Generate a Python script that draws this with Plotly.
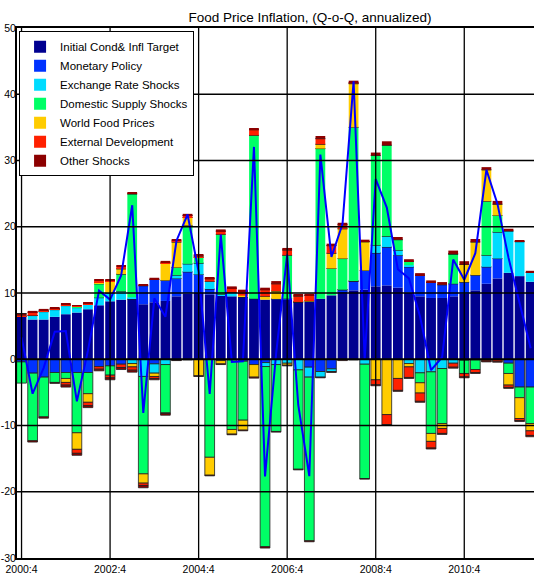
import plotly.graph_objects as go

quarters = ["2000:4",
            "2001:1", "2001:2", "2001:3", "2001:4",
            "2002:1", "2002:2", "2002:3", "2002:4",
            "2003:1", "2003:2", "2003:3", "2003:4",
            "2004:1", "2004:2", "2004:3", "2004:4",
            "2005:1", "2005:2", "2005:3", "2005:4",
            "2006:1", "2006:2", "2006:3", "2006:4",
            "2007:1", "2007:2", "2007:3", "2007:4",
            "2008:1", "2008:2", "2008:3", "2008:4",
            "2009:1", "2009:2", "2009:3", "2009:4",
            "2010:1", "2010:2", "2010:3", "2010:4",
            "2011:1", "2011:2", "2011:3", "2011:4",
            "2012:1", "2012:2"]
tick_labels = ["2000:4", "2002:4", "2004:4", "2006:4", "2008:4", "2010:4"]
y_ticks = [-30, -20, -10, 0, 10, 20, 30, 40, 50]
y_tick_text = ["-30", "-20", "-10", "0", "10", "20", "30", "40", "50"]

init_cond = [6.5, 6.0, 6.0, 6.4, 6.8, 7.05, 7.55, 8.15, 8.75, 9.0,
             9.1, 8.3, 8.6, 8.8, 9.5, 9.9, 10.0, 9.8, 9.65, 9.5,
             9.4, 9.15, 9.0, 9.0, 9.0, 8.65, 8.65, 9.15, 9.65, 10.3,
             10.4, 10.5, 11.0, 11.15, 10.8, 10.1, 9.5, 9.25, 9.25, 9.5,
             9.85, 10.4, 11.4, 12.2, 13.05, 12.55, 11.7]
monetary_pos = [0, 0, 0, 0, 0, 0, 0, 0, 0, 0,
                0, 2.8, 3.45, 3.1, 2.7, 3.3, 2.8, 0.8, 0, 0,
                0, 0, 0, 0.1, 0.15, 0, 0, 0, 0, 0.2,
                1.4, 2.9, 5.05, 5.8, 4.9, 3.85, 3.2, 2.35, 2.0, 1.9,
                1.8, 2.3, 2.55, 3.0, 0, 0, 0]
monetary_neg = [-0.4, -2.1, -2.7, -2.0, -2.0, -2.0, -2.0, -1.1, -1.0, -0.75,
                0, 0, -0.7, 0, 0, 0, 0, 0, -0.2, -0.1,
                -0.3, -0.8, -0.5, 0, 0, 0, -1.2, -1.85, -1.45, 0,
                0, 0, 0, 0, 0, 0, 0, 0, 0, 0,
                0, 0, 0, 0, -0.6, -4.2, -4.2]
exch_pos = [0, 0.6, 1.2, 1.1, 1.3, 0.75, 0.75, 1.15, 1.25, 1.25,
            0.25, 0, 0, 0, 0.5, 1.2, 1.7, 1.15, 0.15, 0.6,
            0, 0, 0, 0, 0, 0, 0, 0, 0, 0,
            0, 0, 1.15, 1.6, 0.75, 0.25, 0, 0, 0, 0,
            0, 0, 1.75, 4.0, 6.3, 5.2, 1.4]
exch_neg = [0, 0, 0, 0, 0, 0, 0, 0, 0, 0,
            -0.65, -2.6, -1.4, -0.8, 0, 0, 0, 0, 0, 0,
            0, 0, -0.6, -0.8, -0.6, -1.6, -1.5, -0.85, -0.4, 0,
            0, -0.75, 0, 0, 0, -0.65, -2.05, -1.9, -1.4, -0.6,
            -0.15, -0.1, 0, 0, 0, 0, 0]
supply_pos = [0, 0, 0, 0, 0, 0.1, 0, 2.1, 0, 2.6,
              15.6, 0, 0, 0, 1.15, 5.8, 0.9, 0, 9.05, 0,
              0, 24.65, 0, 0, 6.55, 0, 0, 22.65, 4.05, 4.7,
              23.2, 0, 13.55, 13.75, 1.6, 0.6, 0, 0, 0, 4.5,
              0, 0, 8.15, 2.5, 0, 0, 0]
supply_neg = [-3.2, -10.2, -6.0, -1.5, -0.9, -9.1, -3.2, 0, -1.4, 0,
              0, -14.7, 0, -7.3, 0, 0, 0, -14.8, 0, -10.5,
              -8.9, 0, -27.2, -10.1, 0, -15.0, -24.7, 0, 0, 0,
              0, -17.25, 0, 0, 0, 0, -1.5, -9.3, -8.3, 0,
              -2.0, -1.45, 0, 0, -1.55, -1.6, -5.5]
food_pos = [0, 0, 0, 0, 0, 0, 0, 0.25, 1.8, 0.8,
            0, 0, 0, 2.6, 3.85, 1.2, 0, 0, 0, 0,
            0.2, 0, 0.5, 1.2, 0, 0, 0.15, 0.65, 2.3, 4.5,
            6.6, 4.35, 0, 0, 0, 0, 0, 0, 0, 0,
            2.65, 5.0, 4.75, 1.7, 0, 0, 0]
food_neg = [0, 0, 0, 0, -0.6, -2.5, -1.3, 0, 0, 0,
            -0.5, -1.4, -0.5, 0, 0, 0, -2.5, -2.7, -0.5, -0.7,
            -1.5, -1.9, 0, 0, -0.3, 0, 0, 0, 0, 0,
            0, 0, -3.1, -8.35, -2.9, -0.5, -1.55, -1.2, -0.75, 0,
            0, 0, 0, 0, -1.75, -3.15, -1.1]
ext_pos = [0.2, 0.5, 0.2, 0.15, 0.2, 0.15, 0.15, 0.25, 0.15, 0.35,
           0.1, 0, 0, 0.15, 0.25, 0.3, 0.2, 0.4, 0.5, 0.65,
           0.65, 0.85, 1.0, 1.1, 0.8, 0.9, 0.85, 0.85, 1.15, 0.6,
           0.1, 0, 0, 0, 0, 0, 0, 0, 0, 0,
           0, 0, 0, 0, 0, 0, 0]
ext_neg = [0, 0, 0, 0, -0.4, -0.6, -0.5, -0.4, -0.4, -0.5,
           -0.5, -0.35, -0.3, -0.1, -0.1, 0, 0, 0, 0, 0,
           0, 0, 0, 0, 0, 0, 0, 0, 0, 0,
           0, 0, -0.75, -1.5, -1.8, -1.6, -1.25, -1.0, -0.75, -0.6,
           -0.5, -0.45, -0.25, -0.3, -0.35, -0.3, -0.7]
other_pos = [0.2, 0.2, 0.2, 0.15, 0.15, 0.1, 0.15, 0.2, 0.15, 0.2,
             0.15, 0.2, 0.25, 0.2, 0.15, 0.25, 0.2, 0.2, 0.25, 0.25,
             0.25, 0.25, 0.3, 0.4, 0.3, 0.25, 0.25, 0.4, 0.3, 0.3,
             0.35, 0.3, 0.45, 0.6, 0.4, 0.3, 0.3, 0.3, 0.4, 0.5,
             0.5, 0.45, 0.4, 0.5, 0.35, 0.2, 0.25]
other_neg = [0, -0.2, -0.2, -0.15, -0.3, -0.3, -0.3, -0.25, -0.3, -0.3,
             -0.3, -0.35, -0.2, -0.25, -0.1, -0.1, -0.1, -0.1, -0.1, -0.1,
             -0.1, -0.15, -0.2, -0.1, -0.1, -0.1, -0.15, -0.1, -0.15, -0.2,
             -0.1, -0.1, -0.15, -0.15, -0.15, -0.15, -0.15, -0.15, -0.15, -0.15,
             -0.15, -0.15, -0.15, -0.15, -0.15, -0.15, -0.2]

series = [
    ("Initial Cond& Infl Target", "#000090", init_cond, None),
    ("Monetary Policy", "#0032ff", monetary_pos, monetary_neg),
    ("Exchange Rate Shocks", "#00dcff", exch_pos, exch_neg),
    ("Domestic Supply Shocks", "#00ff66", supply_pos, supply_neg),
    ("World Food Prices", "#ffcc00", food_pos, food_neg),
    ("External Development", "#ff2000", ext_pos, ext_neg),
    ("Other Shocks", "#8c0000", other_pos, other_neg),
]

FONT = "Liberation Sans, Arial, sans-serif"

fig = go.Figure()
for name, color, pos, neg in series:
    fig.add_trace(go.Bar(x=quarters, y=pos, name=name, legendgroup=name,
                         marker=dict(color=color, line=dict(width=0))))
    if neg is not None:
        fig.add_trace(go.Bar(x=quarters, y=neg, name=name, legendgroup=name,
                             showlegend=False,
                             marker=dict(color=color,
                                         line=dict(width=0.8, color="#202020"))))

total = []
for i in range(len(quarters)):
    s = init_cond[i]
    for _, _, pos, neg in series[1:]:
        s += pos[i] + neg[i]
    total.append(s)

fig.add_trace(go.Scatter(x=quarters, y=total, mode="lines", showlegend=False,
                         line=dict(color="#0000ff", width=2)))

shapes = []
for v in y_ticks[1:-1]:
    shapes.append(dict(type="line", xref="paper", yref="y", x0=0, x1=1, y0=v, y1=v,
                       layer="above",
                       line=dict(color="black", width=2.2 if v == 0 else 1.3)))
for t in tick_labels:
    shapes.append(dict(type="line", xref="x", yref="paper", x0=t, x1=t, y0=0, y1=1,
                       layer="above", line=dict(color="black", width=1.3)))

fig.update_layout(
    width=534, height=574,
    margin=dict(l=17, r=0, t=28, b=16),
    paper_bgcolor="white", plot_bgcolor="white",
    barmode="relative", bargap=0.12,
    shapes=shapes,
    title=dict(text="Food Price Inflation, (Q-o-Q, annualized)",
               x=310 / 534, xanchor="center", xref="container",
               y=1 - 17 / 574, yanchor="middle", yref="container",
               font=dict(family=FONT, size=13.5, color="black")),
    legend=dict(x=0.004, y=0.994, xanchor="left", yanchor="top",
                bgcolor="white", bordercolor="black", borderwidth=1,
                traceorder="normal", itemwidth=30, tracegroupgap=0,
                font=dict(family=FONT, size=11.5, color="black")),
    xaxis=dict(type="category", range=[-0.41, 46.3], tickmode="array",
               tickvals=tick_labels, ticktext=tick_labels, showgrid=False,
               ticks="", showline=True, linecolor="black", linewidth=2, mirror=True,
               tickfont=dict(family=FONT, size=10.5, color="black"),
               automargin=False, layer="above traces"),
    yaxis=dict(range=[-30, 50], tickmode="array", tickvals=y_ticks,
               ticktext=y_tick_text, showgrid=False, zeroline=False,
               ticks="", showline=True, linecolor="black", linewidth=2,
               ticklabelstandoff=-3,
               tickfont=dict(family=FONT, size=10.5, color="black"),
               automargin=False, layer="above traces"),
)

fig.write_html("out.html", config={"displayModeBar": False},
               post_script="document.body.style.margin='0';document.body.style.overflow='hidden';")
